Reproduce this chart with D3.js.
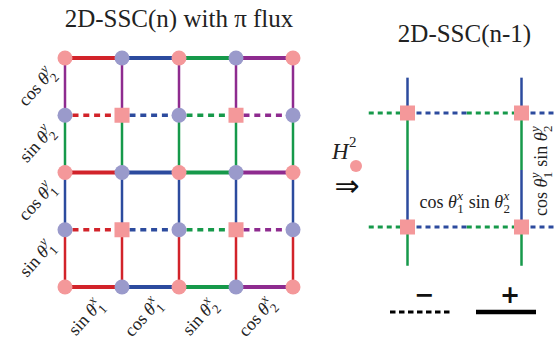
<!DOCTYPE html>
<html>
<head>
<meta charset="utf-8">
<script src="https://cdn.jsdelivr.net/npm/d3@7"></script>
<style>
  body { margin: 0; background: #fff; }
  svg { display: block; }
  text { white-space: pre; }
  .serif { font-family: "Liberation Serif", "Times New Roman", Times, "DejaVu Serif", serif; }
</style>
</head>
<body>
<svg id="chart" width="554" height="348"></svg>
<script>
// 颜色
const PINK = "#f4989a", LAV = "#9a9acb";
const RED = "#d2232a", BLUE = "#2c4b9e", GREEN = "#16994a", PURPLE = "#8e2b8f";

// 左边的格子 (2D-SSC(n))
const colIdx = [0, 1, 2, 3, 4];
const rowIdx = [0, 1, 2, 3, 4];
const hBondColors = [RED, BLUE, GREEN, PURPLE];     // 每一列间隔
const vBondColors = [PURPLE, GREEN, BLUE, RED];     // 每一行间隔
const rowDashed = [false, true, false, true, false];
// p = 粉色圆, b = 紫色圆, s = 粉色方块
const siteKinds = [
    ["p", "b", "p", "b", "p"],
    ["b", "s", "b", "s", "b"],
    ["p", "b", "p", "b", "p"],
    ["b", "s", "b", "s", "b"],
    ["p", "b", "p", "b", "p"]
];
const yLabels = [
    { fn: "cos", sup: "y", sub: "2" },
    { fn: "sin", sup: "y", sub: "2" },
    { fn: "cos", sup: "y", sub: "1" },
    { fn: "sin", sup: "y", sub: "1" }
];
const xLabels = [
    { fn: "sin", sup: "x", sub: "1" },
    { fn: "cos", sup: "x", sub: "1" },
    { fn: "sin", sup: "x", sub: "2" },
    { fn: "cos", sup: "x", sub: "2" }
];

// 右边 (2D-SSC(n-1))，单位是格子间距
const rCols = [0, 1];
const rRows = [0, 1];
const rVSegs = [[-0.31, 0, BLUE], [0, 0.5, GREEN], [0.5, 1, BLUE], [1, 1.34, GREEN]];
const rHSegs = [[-0.34, 0, GREEN], [0, 0.52, BLUE], [0.52, 1, GREEN], [1, 1.4, BLUE]];
const rHLabel = [{ fn: "cos", sup: "x", sub: "1" }, { fn: "sin", sup: "x", sub: "2" }];
const rVLabel = [{ fn: "cos", sup: "y", sub: "1" }, { fn: "sin", sup: "y", sub: "2" }];
const legendItems = [{ sign: "\u2212", dashed: true }, { sign: "+", dashed: false }];

const svg = d3.select("#chart");

const x = d3.scalePoint().domain(colIdx).range([65, 293]);
const y = d3.scalePoint().domain(rowIdx).range([58, 287]);
const xr = d3.scaleLinear().domain([0, 1]).range([407.5, 521.5]);
const yr = d3.scaleLinear().domain([0, 1]).range([113, 227]);
const legX = d3.scalePoint().domain(d3.range(legendItems.length)).range([421, 507]);

//数学公式: cos θ^x_1 ...
function mathTerms(parent, terms, size) {
    const g = parent.append("g").attr("class", "serif").attr("fill", "#222");
    let cx = 0;
    terms.forEach(d => {
        const t = g.append("text").attr("x", cx).style("font-size", size + "px");
        t.append("tspan").text(d.fn + " ");
        t.append("tspan").style("font-style", "italic").text("θ");
        const w = t.node().getComputedTextLength();
        // 上标和下标叠在一起
        const s1 = g.append("text").attr("x", cx + w + 0.5).attr("y", -size * 0.45)
            .style("font-size", size * 0.72 + "px").style("font-style", "italic").text(d.sup);
        const s2 = g.append("text").attr("x", cx + w + 0.5).attr("y", size * 0.3)
            .style("font-size", size * 0.72 + "px").text(d.sub);
        cx += w + Math.max(s1.node().getComputedTextLength(), s2.node().getComputedTextLength()) + size * 0.3;
    });
    return { g, width: cx - size * 0.3 };
}

// ---------- 标题 ----------
svg.append("text")
    .attr("class", "serif")
    .attr("x", 179).attr("y", 27)
    .attr("text-anchor", "middle")
    .style("font-size", "25px").attr("fill", "#222")
    .text("2D-SSC(n) with π flux");
svg.append("text")
    .attr("class", "serif")
    .attr("x", 464.5).attr("y", 42)
    .attr("text-anchor", "middle")
    .style("font-size", "25px").attr("fill", "#222")
    .text("2D-SSC(n-1)");

// ---------- 左边格子 ----------
const left = svg.append("g");
const R = 7.5, SQ = 15;

// 竖线
rowIdx.slice(0, -1).forEach(r => {
    colIdx.forEach(c => {
        left.append("line")
            .attr("x1", x(c)).attr("x2", x(c))
            .attr("y1", y(r)).attr("y2", y(r + 1))
            .attr("stroke", vBondColors[r])
            .attr("stroke-width", 2.5);
    });
});
// 横线
rowIdx.forEach(r => {
    colIdx.slice(0, -1).forEach(c => {
        let line = left.append("line")
            .attr("y1", y(r)).attr("y2", y(r))
            .attr("stroke", hBondColors[c]);
        if (rowDashed[r]) {
            line.attr("x1", x(c) + R).attr("x2", x(c + 1) - R)
                .attr("stroke-width", 3.5)
                .attr("stroke-dasharray", "6,4.8");
        } else {
            line.attr("x1", x(c)).attr("x2", x(c + 1))
                .attr("stroke-width", 4);
        }
    });
});
// 格点
rowIdx.forEach(r => {
    colIdx.forEach(c => {
        let k = siteKinds[r][c];
        if (k === "s") {
            left.append("rect")
                .attr("x", x(c) - SQ / 2).attr("y", y(r) - SQ / 2)
                .attr("width", SQ).attr("height", SQ)
                .attr("fill", PINK);
        } else {
            left.append("circle")
                .attr("cx", x(c)).attr("cy", y(r)).attr("r", R)
                .attr("fill", k === "p" ? PINK : LAV);
        }
    });
});

// 左侧标签
yLabels.forEach((d, i) => {
    let lab = mathTerms(svg, [d], 18);
    let cy = (y(i) + y(i + 1)) / 2 + 1;
    lab.g.attr("transform", `translate(37,${cy}) rotate(-48) translate(${-lab.width / 2},5)`);
});
// 底部标签
xLabels.forEach((d, i) => {
    let lab = mathTerms(svg, [d], 18);
    let cx = (x(i) + x(i + 1)) / 2 - 7.5;
    lab.g.attr("transform", `translate(${cx},318) rotate(-48) translate(${-lab.width / 2},5)`);
});

// ---------- 中间 H^2 ⇒ ----------
svg.append("text")
    .attr("class", "serif")
    .attr("x", 332).attr("y", 159)
    .style("font-size", "23px").style("font-style", "italic").attr("fill", "#222")
    .text("H");
svg.append("text")
    .attr("class", "serif")
    .attr("x", 349).attr("y", 147)
    .style("font-size", "15px").attr("fill", "#222")
    .text("2");
svg.append("circle")
    .attr("cx", 356).attr("cy", 166).attr("r", 6)
    .attr("fill", PINK);
svg.append("text")
    .attr("x", 347).attr("y", 196)
    .attr("text-anchor", "middle")
    .style("font-family", "'DejaVu Sans', sans-serif").style("font-size", "30px").attr("fill", "#111")
    .text("⇒");

// ---------- 右边 ----------
const right = svg.append("g");
rCols.forEach(c => {
    rVSegs.forEach(s => {
        right.append("line")
            .attr("x1", xr(c)).attr("x2", xr(c))
            .attr("y1", yr(s[0])).attr("y2", yr(s[1]))
            .attr("stroke", s[2])
            .attr("stroke-width", 2.5);
    });
});
rRows.forEach(r => {
    rHSegs.forEach(s => {
        right.append("line")
            .attr("x1", xr(s[0])).attr("x2", xr(s[1]))
            .attr("y1", yr(r)).attr("y2", yr(r))
            .attr("stroke", s[2])
            .attr("stroke-width", 3)
            .attr("stroke-dasharray", "5,4");
    });
});
rRows.forEach(r => {
    rCols.forEach(c => {
        right.append("rect")
            .attr("x", xr(c) - SQ / 2).attr("y", yr(r) - SQ / 2)
            .attr("width", SQ).attr("height", SQ)
            .attr("fill", PINK);
    });
});

let hl = mathTerms(svg, rHLabel, 18);
hl.g.attr("transform", `translate(${(xr(0) + xr(1)) / 2 - hl.width / 2},208)`);
let vl = mathTerms(svg, rVLabel, 18);
vl.g.attr("transform", `translate(547,171) rotate(-90) translate(${-vl.width / 2},0)`);

// ---------- 图例 ----------
legendItems.forEach((d, i) => {
    svg.append("text")
        .attr("x", legX(i) + 3).attr("y", 303)
        .attr("text-anchor", "middle")
        .style("font-family", "'DejaVu Sans', sans-serif").style("font-weight", "bold")
        .style("font-size", "24px").attr("fill", "#111")
        .text(d.sign);
    svg.append("line")
        .attr("x1", legX(i) - 31).attr("x2", legX(i) + (d.dashed ? 31 : 29))
        .attr("y1", 312).attr("y2", 312)
        .attr("stroke", "#000")
        .attr("stroke-width", d.dashed ? 3 : 4.5)
        .attr("stroke-dasharray", d.dashed ? "5.5,3.5" : null);
});
</script>
</body>
</html>
